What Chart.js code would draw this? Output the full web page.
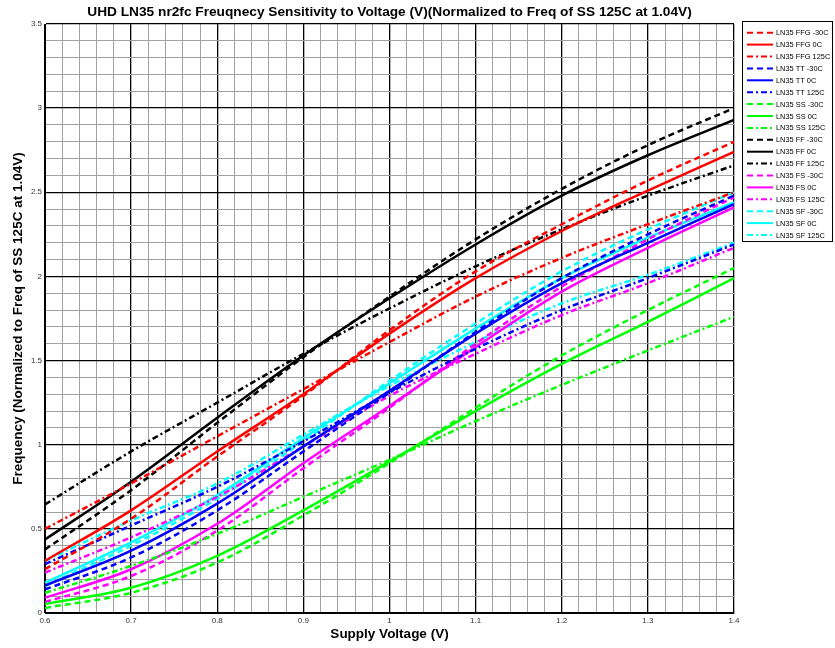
<!DOCTYPE html>
<html>
<head>
<meta charset="utf-8">
<script src="https://cdn.jsdelivr.net/npm/chart.js@4.4.1/dist/chart.umd.min.js"></script>
<style>
  html, body { margin: 0; padding: 0; background: #fff; }
  #wrap { width: 835px; height: 648px; position: relative; }
</style>
</head>
<body>
<div id="wrap"><canvas id="freqChart"></canvas></div>
<script>
const TITLE = "UHD LN35 nr2fc Freuqnecy Sensitivity to Voltage (V)(Normalized to Freq of SS 125C at 1.04V)";
const X_LABEL = "Supply Voltage (V)";
const Y_LABEL = "Frequency (Normalized to Freq of SS 125C at 1.04V)";

const voltage = [0.6, 0.7, 0.8, 0.9, 1.0, 1.1, 1.2, 1.3, 1.4];

// normalized frequency, one value per voltage
const ffgM30 = [0.26, 0.56, 0.93, 1.29, 1.68, 2.03, 2.31, 2.57, 2.80];
const ffg0 = [0.31, 0.61, 0.96, 1.30, 1.66, 1.99, 2.27, 2.51, 2.74];
const ffg125 = [0.50, 0.77, 1.05, 1.33, 1.61, 1.88, 2.11, 2.31, 2.50];
const ttM30 = [0.14, 0.33, 0.61, 0.96, 1.31, 1.67, 1.99, 2.25, 2.48];
const tt0 = [0.163, 0.37, 0.65, 0.99, 1.32, 1.66, 1.96, 2.20, 2.43];
const tt125 = [0.29, 0.52, 0.75, 1.02, 1.31, 1.57, 1.80, 1.99, 2.19];
const ssM30 = [0.03, 0.12, 0.30, 0.58, 0.89, 1.22, 1.53, 1.80, 2.05];
const ss0 = [0.054, 0.15, 0.34, 0.61, 0.90, 1.20, 1.48, 1.73, 1.99];
const ss125 = [0.12, 0.28, 0.47, 0.69, 0.91, 1.14, 1.355, 1.56, 1.76];
const ffM30 = [0.377, 0.73, 1.13, 1.52, 1.88, 2.22, 2.52, 2.78, 3.00];
const ff0 = [0.437, 0.78, 1.16, 1.53, 1.87, 2.19, 2.48, 2.72, 2.93];
const ff125 = [0.645, 0.96, 1.25, 1.54, 1.81, 2.06, 2.28, 2.48, 2.66];
const fsM30 = [0.065, 0.22, 0.49, 0.86, 1.22, 1.60, 1.94, 2.22, 2.47];
const fs0 = [0.09, 0.26, 0.53, 0.89, 1.23, 1.58, 1.91, 2.17, 2.41];
const fs125 = [0.24, 0.45, 0.69, 0.99, 1.29, 1.54, 1.77, 1.96, 2.17];
const sfM30 = [0.16, 0.40, 0.68, 1.02, 1.38, 1.72, 2.03, 2.28, 2.50];
const sf0 = [0.18, 0.42, 0.70, 1.04, 1.365, 1.69, 1.99, 2.23, 2.44];
const sf125 = [0.31, 0.55, 0.77, 1.06, 1.35, 1.61, 1.84, 2.01, 2.20];

const X_MIN = 0.6, X_MAX = 1.4;
const Y_MIN = 0, Y_MAX = 3.5;

const DASH = [6, 4];
const DASHDOT = [6, 3, 2, 3];
const SOLID = [];

const FONT = "Arial, 'Liberation Sans', sans-serif";

function series(label, color, dash, values) {
  return {
    label: label,
    data: voltage.map((v, i) => ({ x: v, y: values[i] })),
    borderColor: color,
    backgroundColor: color,
    borderDash: dash,
    borderWidth: 2.5,
    pointRadius: 0,
    tension: 0.35,
    fill: false,
  };
}

const datasets = [
  series("LN35 FFG -30C", "#ff0000", DASH, ffgM30),
  series("LN35 FFG 0C", "#ff0000", SOLID, ffg0),
  series("LN35 FFG 125C", "#ff0000", DASHDOT, ffg125),
  series("LN35 TT -30C", "#0000ff", DASH, ttM30),
  series("LN35 TT 0C", "#0000ff", SOLID, tt0),
  series("LN35 TT 125C", "#0000ff", DASHDOT, tt125),
  series("LN35 SS -30C", "#00ff00", DASH, ssM30),
  series("LN35 SS 0C", "#00ff00", SOLID, ss0),
  series("LN35 SS 125C", "#00ff00", DASHDOT, ss125),
  series("LN35 FF -30C", "#000000", DASH, ffM30),
  series("LN35 FF 0C", "#000000", SOLID, ff0),
  series("LN35 FF 125C", "#000000", DASHDOT, ff125),
  series("LN35 FS -30C", "#ff00ff", DASH, fsM30),
  series("LN35 FS 0C", "#ff00ff", SOLID, fs0),
  series("LN35 FS 125C", "#ff00ff", DASHDOT, fs125),
  series("LN35 SF -30C", "#00ffff", DASH, sfM30),
  series("LN35 SF 0C", "#00ffff", SOLID, sf0),
  series("LN35 SF 125C", "#00ffff", DASHDOT, sf125),
];

function isMultiple(value, step) {
  const r = value / step;
  return Math.abs(r - Math.round(r)) < 1e-6;
}

function gridColor(step) {
  return (ctx) => (ctx.tick && isMultiple(ctx.tick.value, step) ? "#000000" : "#a0a0a0");
}

function gridWidth(step) {
  return (ctx) => (ctx.tick && isMultiple(ctx.tick.value, step) ? 1.3 : 1);
}

function tickText(step) {
  return (value) => (isMultiple(value, step) ? String(Math.round(value * 10) / 10) : "");
}

// title over the plot and the boxed legend on the right
const extras = {
  id: "extras",
  afterDraw(chart) {
    const { ctx, chartArea } = chart;
    ctx.save();

    ctx.fillStyle = "#000";
    ctx.font = "bold 13.7px " + FONT;
    ctx.textAlign = "center";
    ctx.textBaseline = "middle";
    ctx.fillText(TITLE, (chartArea.left + chartArea.right) / 2, 12);

    const boxX = 742, boxY = 21, boxW = 91, boxH = 221;
    ctx.fillStyle = "#fff";
    ctx.fillRect(boxX, boxY, boxW, boxH);
    ctx.strokeStyle = "#000";
    ctx.lineWidth = 1;
    ctx.setLineDash([]);
    ctx.strokeRect(boxX + 0.5, boxY + 0.5, boxW - 1, boxH - 1);

    ctx.font = "7.4px " + FONT;
    ctx.textAlign = "left";
    chart.data.datasets.forEach((ds, i) => {
      const y = 32.7 + i * 11.9;
      ctx.strokeStyle = ds.borderColor;
      ctx.lineWidth = 2;
      ctx.setLineDash(ds.borderDash);
      ctx.beginPath();
      ctx.moveTo(747, y);
      ctx.lineTo(773, y);
      ctx.stroke();
      ctx.fillStyle = "#000";
      ctx.fillText(ds.label, 776, y + 0.5);
    });

    ctx.restore();
  },
};

new Chart(document.getElementById("freqChart"), {
  type: "line",
  data: { datasets: datasets },
  plugins: [extras],
  options: {
    responsive: true,
    maintainAspectRatio: false,
    animation: false,
    layout: { padding: { left: 0, top: 24, right: 101, bottom: 0 } },
    plugins: {
      legend: { display: false },
      tooltip: { enabled: false },
    },
    scales: {
      x: {
        type: "linear",
        min: X_MIN,
        max: X_MAX,
        afterFit: (scale) => { scale.height = 35; },
        ticks: {
          stepSize: 0.02,
          autoSkip: false,
          maxRotation: 0,
          padding: 3,
          color: "#333",
          font: { family: FONT, size: 8 },
          callback: tickText(0.1),
        },
        grid: { color: gridColor(0.1), lineWidth: gridWidth(0.1), drawTicks: false },
        border: { color: "#000", width: 1 },
        title: {
          display: true,
          text: X_LABEL,
          color: "#000",
          font: { family: FONT, size: 13.5, weight: "bold" },
          padding: { top: 0, bottom: 6 },
        },
      },
      y: {
        type: "linear",
        min: Y_MIN,
        max: Y_MAX,
        afterFit: (scale) => { scale.width = 45; },
        ticks: {
          stepSize: 0.1,
          autoSkip: false,
          padding: 3,
          color: "#333",
          font: { family: FONT, size: 8 },
          callback: tickText(0.5),
        },
        grid: { color: gridColor(0.5), lineWidth: gridWidth(0.5), drawTicks: false },
        border: { color: "#000", width: 1 },
        title: {
          display: true,
          text: Y_LABEL,
          color: "#000",
          font: { family: FONT, size: 13.5, weight: "bold" },
          padding: { top: 10, bottom: 0 },
        },
      },
    },
  },
});
</script>
</body>
</html>
